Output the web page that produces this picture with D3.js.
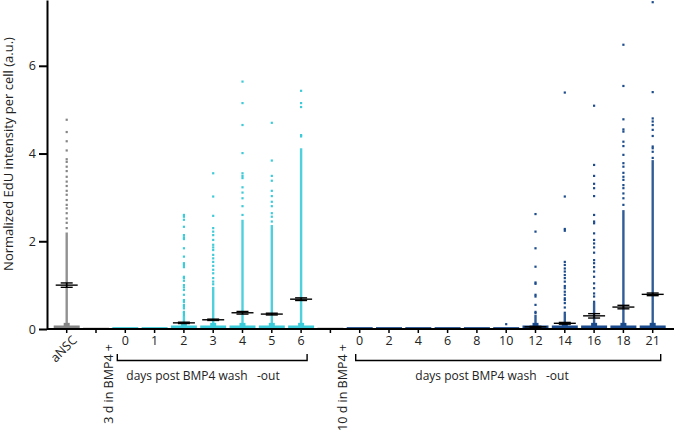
<!DOCTYPE html>
<html><head><meta charset="utf-8">
<script src="https://cdn.jsdelivr.net/npm/d3@7"></script>
<style>body{margin:0;background:#fff}svg{display:block}text{font-family:"Open Sans",sans-serif}</style>
</head><body>
<svg id="c" width="674" height="430"></svg>
<script>
const categoryIds = ["aNSC","pre3","a0","a1","a2","a3","a4","a5","a6","pre10","b0","b2","b4","b6","b8","b10","b12","b14","b16","b18","b21"];
const tickLabels = ["aNSC","3 d in BMP4 +","0","1","2","3","4","5","6","10 d in BMP4 +","0","2","4","6","8","10","12","14","16","18","21"];
const seriesOf = ["ctrl","pre","w3","w3","w3","w3","w3","w3","w3","pre","w10","w10","w10","w10","w10","w10","w10","w10","w10","w10","w10"];
const means = [1.0,0,0,0,0.14,0.21,0.37,0.34,0.68,0,0,0,0,0,0,0,0.05,0.13,0.30,0.50,0.79];
const sems  = [0.05,0,0,0,0.015,0.015,0.03,0.02,0.03,0,0,0,0,0,0,0,0.01,0.02,0.05,0.04,0.03];
const denseTops = [2.2,0,0.02,0.02,0.3,0.96,2.49,2.37,4.12,0,0.02,0.02,0.02,0.02,0.02,0.02,0.32,0.35,0.6,2.71,3.85];
const sparsePoints = [
  [4.77,4.49,4.28,4.07,3.87,3.81,3.70,3.60,3.47,3.36,3.26,3.15,3.06,2.94,2.83,2.75,2.64,2.52,2.42,2.30],
  [],[],[],
  [2.60,2.56,2.49,2.33,2.14,2.09,2.05,1.84,1.65,1.50,1.46,1.41,1.19,1.16,1.10,1.00,0.95,0.89,0.78,0.66,0.62,0.55,0.51,0.47,0.39,0.36,0.32],
  [3.55,3.02,2.58,2.30,2.22,2.14,2.03,1.92,1.86,1.80,1.69,1.61,1.53,1.44,1.35,1.27,1.16,1.08,1.02],
  [5.64,5.15,4.65,4.01,3.55,3.49,3.44,3.23,3.11,2.98,2.80,2.60],
  [4.70,3.84,3.49,3.38,3.15,3.03,2.90,2.80,2.64,2.56,2.45],
  [5.43,5.15,5.06,4.42,4.39],
  [],[],[],[],[],[],
  [0.11],
  [2.62,2.22,1.84,1.42,1.06,1.03,0.78,0.74,0.55,0.39,0.36],
  [5.39,3.02,2.28,2.24,1.53,1.46,1.38,1.31,1.23,1.16,1.08,0.98,0.93,0.85,0.78,0.70,0.66,0.59,0.49,0.37],
  [5.09,3.74,3.49,3.31,3.21,3.03,2.60,2.45,2.41,2.18,2.03,1.95,1.86,1.74,1.57,1.50,1.41,1.31,1.19,1.04,0.93,0.81,0.74,0.62],
  [6.48,5.54,4.78,4.55,4.50,4.27,4.17,3.97,3.78,3.70,3.56,3.47,3.40,3.28,3.21,3.09,2.98,2.83],
  [7.45,5.40,4.80,4.73,4.65,4.54,4.40,4.16,4.12,4.04,3.90]
];
const yTicks = [0,2,4,6];
const groupBrackets = [
  {from:"a0", to:"a6", label:"days post BMP4 wash   -out", anchorCat:"a0", l:-8, r:6, dx:1},
  {from:"b0", to:"b21", label:"days post BMP4 wash   -out", anchorCat:"b4", l:-4, r:8, dx:-3}
];
const colors = {ctrl:"#858585", pre:"#d6d6d6", w3:"#3ccbd9", w10:"#1b4b8c"};

const svg = d3.select("#c");
const x = d3.scalePoint().domain(categoryIds).range([66.7, 652.7]);
const y = d3.scaleLinear().domain([0,7.5]).range([329, 0]);
const x0 = 47;

const data = categoryIds.map((id,i)=>({id, label:tickLabels[i], s:seriesOf[i], mean:means[i], sem:sems[i], top:denseTops[i], pts:sparsePoints[i]}));

// zero bands
svg.append("g").selectAll("rect").data(data).join("rect")
  .attr("x", d=>x(d.id)-13).attr("width",26)
  .attr("y", d=> d.top>0.1 ? y(0.08) : y(0.02)-1)
  .attr("height", d=> d.top>0.1 ? y(0)-y(0.08) : 2.5)
  .attr("fill", d=>colors[d.s]);
// slight widening near zero
svg.append("g").selectAll("rect").data(data.filter(d=>d.top>0.1)).join("rect")
  .attr("x", d=>x(d.id)-3).attr("width",6)
  .attr("y", y(0.14)).attr("height", y(0)-y(0.14))
  .attr("fill", d=>colors[d.s]);
// dense columns
svg.append("g").selectAll("rect").data(data.filter(d=>d.top>0.1)).join("rect")
  .attr("x", d=>x(d.id)-1.2).attr("width",2.4)
  .attr("y", d=>y(d.top)).attr("height", d=>y(0)-y(d.top))
  .attr("fill", d=>colors[d.s]).attr("opacity",0.9);
// sparse points
svg.append("g").selectAll("g").data(data).join("g")
  .attr("fill", d=>colors[d.s])
  .selectAll("rect").data(d=>d.pts.map(v=>({v,id:d.id}))).join("rect")
  .attr("x", p=>x(p.id)-1.1).attr("y", p=>y(p.v)-1.1).attr("width",2.2).attr("height",2.2);

// axes
svg.append("line").attr("x1",x0).attr("x2",674).attr("y1",y(0)).attr("y2",y(0)).attr("stroke","#000").attr("stroke-width",2);
const ya = svg.append("g").attr("transform",`translate(${x0},0)`)
  .call(d3.axisLeft(y).tickValues(yTicks).tickSize(8).tickSizeOuter(0).tickFormat(d3.format("d")));
ya.select(".domain").attr("stroke-width",2);
ya.selectAll(".tick line").attr("stroke-width",2);
ya.selectAll(".tick text").attr("font-size",12.5).attr("font-family","'Open Sans',sans-serif").attr("fill","#222").attr("x",-11);

// mean +- SEM
const mg = svg.append("g").attr("stroke","#000").attr("stroke-width",1.4);
data.filter(d=>d.mean>0).forEach(d=>{
  const cx = x(d.id);
  mg.append("line").attr("x1",cx-11).attr("x2",cx+11).attr("y1",y(d.mean)).attr("y2",y(d.mean));
  mg.append("line").attr("x1",cx-6).attr("x2",cx+6).attr("y1",y(d.mean+d.sem)).attr("y2",y(d.mean+d.sem));
  mg.append("line").attr("x1",cx-6).attr("x2",cx+6).attr("y1",y(d.mean-d.sem)).attr("y2",y(d.mean-d.sem));
  mg.append("line").attr("x1",cx).attr("x2",cx).attr("y1",y(d.mean+d.sem)).attr("y2",y(d.mean-d.sem));
});

// x ticks
svg.append("g").selectAll("line").data(data).join("line")
  .attr("x1",d=>x(d.id)).attr("x2",d=>x(d.id)).attr("y1",y(0)).attr("y2",y(0)+4)
  .attr("stroke","#000").attr("stroke-width",1.5);

// x tick labels
data.forEach(d=>{
  const cx = x(d.id);
  if (d.s==="ctrl") {
    svg.append("text").attr("transform",`translate(${cx+11},${341}) rotate(-45)`).attr("text-anchor","end")
      .attr("font-size",12.5).attr("fill","#222").text(d.label);
  } else if (d.s==="pre") {
    svg.append("text").attr("transform",`translate(${cx+17},${344}) rotate(-90)`).attr("text-anchor","end")
      .attr("font-size",12.5).attr("fill","#222").text(d.label);
  } else {
    svg.append("text").attr("x",cx).attr("y",345).attr("text-anchor","middle")
      .attr("font-size",12.5).attr("fill","#222").text(d.label);
  }
});

// group brackets
groupBrackets.forEach(b=>{
  const xl = x(b.from)+b.l, xr = x(b.to)+b.r;
  svg.append("path").attr("d",`M${xl},354 V360.5 H${xr} V354`).attr("fill","none").attr("stroke","#000").attr("stroke-width",1.4);
  svg.append("text").attr("x",x(b.anchorCat)+b.dx).attr("y",380).attr("font-size",12).attr("fill","#222")
    .style("white-space","pre").text(b.label);
});

// y title
svg.append("text").attr("transform","translate(13,154) rotate(-90)").attr("text-anchor","middle")
  .attr("font-size",13).attr("fill","#222").text("Normalized EdU intensity per cell (a.u.)");
</script>
</body></html>
